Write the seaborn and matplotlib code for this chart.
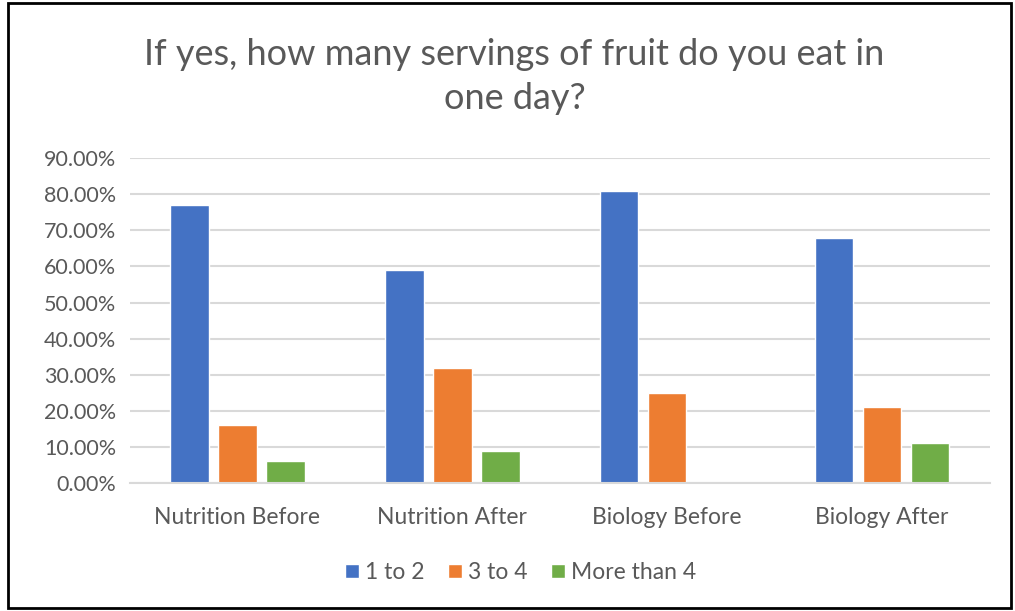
import pandas as pd
import numpy as np
import matplotlib.pyplot as plt
import seaborn as sns
from matplotlib.patches import Rectangle
from matplotlib.ticker import PercentFormatter

# data
groups = ["Nutrition Before", "Nutrition After", "Biology Before", "Biology After"]
series = ["1 to 2", "3 to 4", "More than 4"]
one_to_two = [77, 59, 81, 68]
three_to_four = [16, 32, 25, 21]
more_than_four = [6, 9, 0, 11]
colors = ["#4472C4", "#ED7D31", "#70AD47"]

rows = []
for name, vals in zip(series, [one_to_two, three_to_four, more_than_four]):
    for g, v in zip(groups, vals):
        rows.append({"group": g, "series": name, "value": v / 100})
df = pd.DataFrame(rows)

sns.set_style("white")
plt.rcParams['font.family'] = ['Lato', 'DejaVu Sans']
text_col = "#595959"

fig = plt.figure(figsize=(10.15, 6.11), dpi=100)
ax = fig.add_axes([0.128, 0.2095, 0.847, 0.5315])

sns.barplot(data=df, x="group", y="value", hue="series", palette=colors,
            width=0.67, gap=0.2, ax=ax, legend=True, saturation=1)

ax.set_ylim(0, 0.9)
ax.set_xlim(-0.5, 3.5)
ax.set_yticks(np.arange(0, 0.91, 0.1))
ax.yaxis.set_major_formatter(PercentFormatter(1.0, decimals=2))
ax.grid(axis="y", color="#D9D9D9", linewidth=1.5)
ax.set_axisbelow(True)
for s in ["top", "right", "left"]:
    ax.spines[s].set_visible(False)
ax.spines["bottom"].set_color("#D9D9D9")
ax.spines["bottom"].set_linewidth(1.5)
ax.tick_params(axis="both", length=0, labelcolor=text_col)
ax.tick_params(axis="x", pad=17, labelsize=16.5)
ax.tick_params(axis="y", pad=10, labelsize=15.5)
ax.set_xlabel("")
ax.set_ylabel("")

handles, labels = ax.get_legend_handles_labels()
ax.legend_.remove()
fig.legend(handles, labels, loc="center", bbox_to_anchor=(0.513, 0.063), ncol=3,
           frameon=False, fontsize=16.5, labelcolor=text_col, handlelength=0.6,
           handleheight=0.6, handletextpad=0.3, columnspacing=1.0)

fig.text(0.507, 0.875, "If yes, how many servings of fruit do you eat in\none day?",
         ha="center", va="center", fontsize=26, color=text_col, linespacing=1.4)

# outer frame
fig.patches.append(Rectangle((0.008, 0.005), 0.988, 0.99, transform=fig.transFigure,
                             fill=False, edgecolor="black", linewidth=2))

fig.savefig("out.png", dpi=100)
